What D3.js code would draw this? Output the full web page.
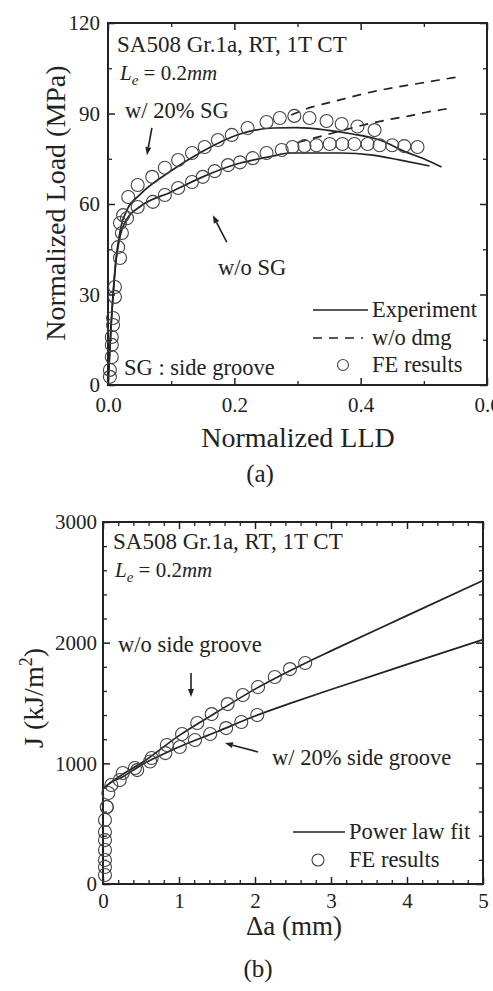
<!DOCTYPE html>
<html>
<head>
<meta charset="utf-8">
<script src="https://cdn.jsdelivr.net/npm/d3@7"></script>
<style>
  body { margin: 0; background: #fff; }
  svg text { font-family: "Liberation Serif", "Times New Roman", serif; fill: #222; }
</style>
</head>
<body>
<svg id="chart" width="493" height="991"></svg>
<script>
// ---------- (a) normalized load vs normalized LLD ----------
// FE results, w/ 20% side groove
const feSgX = [0.003, 0.006, 0.006, 0.008, 0.011, 0.019, 0.022, 0.024, 0.032, 0.047, 0.070, 0.090, 0.111, 0.133, 0.153, 0.174, 0.196, 0.221, 0.251, 0.272, 0.295, 0.319, 0.346, 0.370, 0.395, 0.422];
const feSgY = [2.7, 9.3, 15.9, 22.2, 32.5, 42.1, 50.4, 56.3, 62.3, 66.3, 69.0, 72.0, 74.6, 76.9, 78.9, 81.2, 82.9, 85.2, 87.2, 88.5, 89.2, 88.5, 87.5, 86.5, 85.7, 84.5];
// FE results, w/o side groove
const feNoX = [0.003, 0.006, 0.008, 0.011, 0.016, 0.019, 0.030, 0.047, 0.071, 0.090, 0.111, 0.133, 0.150, 0.169, 0.190, 0.209, 0.229, 0.251, 0.275, 0.292, 0.311, 0.330, 0.351, 0.371, 0.390, 0.411, 0.430, 0.450, 0.469, 0.490];
const feNoY = [5.0, 13.3, 19.9, 29.2, 45.7, 53.7, 55.3, 59.0, 60.7, 63.0, 65.3, 67.3, 69.0, 70.9, 72.9, 73.8, 75.2, 76.9, 77.9, 78.9, 79.2, 79.5, 79.9, 79.9, 79.9, 79.9, 79.5, 79.5, 79.2, 78.9];
// experiment curves
const expSgX = [0, 0.005, 0.012, 0.020, 0.030, 0.050, 0.100, 0.150, 0.209, 0.261, 0.298, 0.346, 0.387, 0.430, 0.472, 0.504, 0.528];
const expSgY = [0, 20, 40, 52, 58, 63, 71, 77.5, 83.2, 85.2, 85.3, 84.5, 83.2, 81.2, 77.2, 74.6, 72.3];
const expNoX = [0, 0.005, 0.012, 0.020, 0.030, 0.050, 0.100, 0.150, 0.200, 0.261, 0.288, 0.367, 0.419, 0.461, 0.509];
const expNoY = [0, 20, 40, 50, 55, 59, 64, 69, 73, 75.9, 76.9, 76.9, 76.2, 74.6, 72.6];
// w/o damage curves
const dmgSgX = [0.290, 0.322, 0.354, 0.410, 0.466, 0.496, 0.524, 0.553];
const dmgSgY = [89.5, 92.1, 93.8, 96.8, 99.1, 100.1, 101.1, 102.1];
const dmgNoX = [0.300, 0.338, 0.417, 0.450, 0.477, 0.506, 0.535, 0.545];
const dmgNoY = [80.4, 82.5, 86.8, 88.2, 89.2, 90.5, 91.5, 91.9];

const aXTicks = [0, 0.2, 0.4, 0.6];
const aXMinor = [0.1, 0.3, 0.5];
const aYTicks = [0, 30, 60, 90, 120];
const aYMinor = [15, 45, 75, 105];

// ---------- (b) J vs crack extension ----------
const jNoX = [0.026, 0.026, 0.026, 0.026, 0.026, 0.026, 0.026, 0.05, 0.11, 0.26, 0.42, 0.64, 0.84, 1.04, 1.24, 1.43, 1.64, 1.84, 2.04, 2.26, 2.46, 2.66];
const jNoY = [75, 141, 199, 282, 364, 431, 530, 638, 820, 920, 961, 1044, 1152, 1243, 1334, 1408, 1491, 1566, 1632, 1715, 1781, 1831];
const jSgX = [0.05, 0.07, 0.22, 0.45, 0.62, 0.82, 1.01, 1.21, 1.41, 1.62, 1.82, 2.03];
const jSgY = [638, 754, 862, 944, 1015, 1085, 1135, 1193, 1243, 1292, 1342, 1400];
// power law fits
const fitNoX = [0, 0.1, 0.25, 0.5, 1, 1.5, 2, 2.66, 3, 4, 5];
const fitNoY = [790, 840, 905, 1000, 1230, 1425, 1615, 1830, 1932, 2224, 2515];
const fitSgX = [0, 0.1, 0.25, 0.5, 1, 1.5, 2, 2.5, 3, 4, 5];
const fitSgY = [790, 840, 885, 985, 1135, 1262, 1392, 1505, 1612, 1820, 2025];

const bXTicks = [0, 1, 2, 3, 4, 5];
const bXMinor = d3.range(0.2, 5, 0.2).filter(v => Math.abs(v - Math.round(v)) > 0.01);
const bYTicks = [0, 1000, 2000, 3000];
const bYMinor = d3.range(200, 3000, 200).filter(v => v % 1000 !== 0);

const svg = d3.select('#chart');
const ink = '#222';
const zip = (xs, ys) => xs.map((v, i) => [v, ys[i]]);

function frame(cfg) {
  const x = d3.scaleLinear().domain(cfg.xDomain).range([cfg.left, cfg.right]);
  const y = d3.scaleLinear().domain(cfg.yDomain).range([cfg.bottom, cfg.top]);
  const g = svg.append('g');

  const sides = [
    [d3.axisBottom(x), cfg.xTicks, cfg.xMinor, `translate(0,${cfg.bottom})`, cfg.xFmt, cfg.xPad],
    [d3.axisTop(x), cfg.xTicks, cfg.xMinor, `translate(0,${cfg.top})`, null, 0],
    [d3.axisLeft(y), cfg.yTicks, cfg.yMinor, `translate(${cfg.left},0)`, cfg.yFmt, cfg.yPad],
    [d3.axisRight(y), cfg.yTicks, cfg.yMinor, `translate(${cfg.right},0)`, null, 0],
  ];
  sides.forEach(([ax, major, minor, tr, fmt, pad]) => {
    const gm = g.append('g').attr('transform', tr)
      .call(ax.tickValues(major).tickSize(-7).tickPadding(pad).tickFormat(fmt ? fmt : () => ''));
    gm.select('.domain').remove();
    gm.selectAll('line').attr('stroke', ink).attr('stroke-width', 1.5);
    gm.selectAll('text').attr('font-size', 21).attr('fill', ink)
      .style('font-family', '"Liberation Serif", "Times New Roman", serif');
    const gn = g.append('g').attr('transform', tr)
      .call(ax.tickValues(minor).tickSize(-4).tickFormat(() => ''));
    gn.select('.domain').remove();
    gn.selectAll('line').attr('stroke', ink).attr('stroke-width', 1.3);
  });

  g.append('rect')
    .attr('x', cfg.left).attr('y', cfg.top)
    .attr('width', cfg.right - cfg.left).attr('height', cfg.bottom - cfg.top)
    .attr('fill', 'none').attr('stroke', ink).attr('stroke-width', 2);
  return { g, x, y };
}

function curve(p, xs, ys, dash) {
  const line = d3.line().x(d => p.x(d[0])).y(d => p.y(d[1])).curve(d3.curveMonotoneX);
  p.g.append('path').datum(zip(xs, ys))
    .attr('fill', 'none').attr('stroke', ink).attr('stroke-width', 1.7)
    .attr('stroke-dasharray', dash || null)
    .attr('d', line);
}

function dots(p, xs, ys) {
  p.g.append('g').selectAll('circle').data(zip(xs, ys)).join('circle')
    .attr('cx', d => p.x(d[0])).attr('cy', d => p.y(d[1])).attr('r', 6.5)
    .attr('fill', 'none').attr('stroke', '#444').attr('stroke-width', 1.1);
}

function arrow(p, from, to) {
  const x1 = p.x(from[0]), y1 = p.y(from[1]), x2 = p.x(to[0]), y2 = p.y(to[1]);
  const ang = Math.atan2(y2 - y1, x2 - x1);
  const hl = 8, hw = 3;
  const bx = x2 - hl * Math.cos(ang), by = y2 - hl * Math.sin(ang);
  p.g.append('line').attr('x1', x1).attr('y1', y1).attr('x2', bx).attr('y2', by)
    .attr('stroke', ink).attr('stroke-width', 1.6);
  p.g.append('path')
    .attr('d', `M${x2},${y2}L${bx - hw * Math.sin(ang)},${by + hw * Math.cos(ang)}L${bx + hw * Math.sin(ang)},${by - hw * Math.cos(ang)}Z`)
    .attr('fill', ink);
}

function label(txt, x, y, size, anchor) {
  return svg.append('text').attr('x', x).attr('y', y).attr('font-size', size)
    .attr('text-anchor', anchor || 'start').text(txt);
}

function leLabel(x, y) {
  const t = svg.append('text').attr('x', x).attr('y', y).attr('font-size', 21);
  t.append('tspan').attr('font-style', 'italic').text('L');
  t.append('tspan').attr('font-style', 'italic').attr('font-size', 15).attr('dy', 5).text('e');
  t.append('tspan').attr('dy', -5).text(' = 0.2');
  t.append('tspan').attr('font-style', 'italic').text('mm');
}

// ----- panel (a) -----
const pa = frame({
  left: 108, right: 487, top: 23, bottom: 385,
  xDomain: [0, 0.6], yDomain: [0, 120],
  xTicks: aXTicks, xMinor: aXMinor, yTicks: aYTicks, yMinor: aYMinor,
  xFmt: d3.format('.1f'), yFmt: d3.format('d'), xPad: 12, yPad: 8,
});
curve(pa, expSgX, expSgY);
curve(pa, expNoX, expNoY);
curve(pa, dmgSgX, dmgSgY, '9,7');
curve(pa, dmgNoX, dmgNoY, '9,7');
dots(pa, feSgX, feSgY);
dots(pa, feNoX, feNoY);
arrow(pa, [0.0695, 85.2], [0.0616, 76.2]);
arrow(pa, [0.188, 47.4], [0.166, 56.3]);

label('SA508 Gr.1a, RT, 1T CT', 117, 52, 23);
leLabel(120, 80);
label('w/ 20% SG', 125, 118, 22.5);
label('w/o SG', 218, 275, 22.5);
label('SG : side groove', 124, 375, 22.5);
svg.append('line').attr('x1', 313).attr('x2', 368).attr('y1', 310).attr('y2', 310)
  .attr('stroke', ink).attr('stroke-width', 1.7);
label('Experiment', 372, 317, 22.5);
svg.append('line').attr('x1', 313).attr('x2', 363).attr('y1', 338).attr('y2', 338)
  .attr('stroke', ink).attr('stroke-width', 1.7).attr('stroke-dasharray', '9,7');
label('w/o dmg', 372, 345, 22.5);
svg.append('circle').attr('cx', 343).attr('cy', 365).attr('r', 5.5)
  .attr('fill', 'none').attr('stroke', '#444').attr('stroke-width', 1.1);
label('FE results', 372, 372, 22.5);

label('Normalized LLD', 298, 447, 28, 'middle');
svg.append('text').attr('transform', 'translate(55,203) rotate(-90)')
  .attr('text-anchor', 'middle').attr('dy', '0.35em').attr('font-size', 28)
  .text('Normalized Load (MPa)');
label('(a)', 260, 482, 25, 'middle');

// ----- panel (b) -----
const pb = frame({
  left: 103, right: 483, top: 522, bottom: 884,
  xDomain: [0, 5], yDomain: [0, 3000],
  xTicks: bXTicks, xMinor: bXMinor, yTicks: bYTicks, yMinor: bYMinor,
  xFmt: d3.format('d'), yFmt: d3.format('d'), xPad: 9, yPad: 6,
});
curve(pb, fitNoX, fitNoY);
curve(pb, fitSgX, fitSgY);
dots(pb, jNoX, jNoY);
dots(pb, jSgX, jSgY);
arrow(pb, [1.158, 1748], [1.158, 1549]);
arrow(pb, [2.04, 1094], [1.605, 1168]);

label('SA508 Gr.1a, RT, 1T CT', 113, 549, 23);
leLabel(115, 577);
label('w/o side groove', 118, 652, 22.5);
label('w/ 20% side groove', 272, 765, 22.5);
svg.append('line').attr('x1', 293).attr('x2', 345).attr('y1', 832).attr('y2', 832)
  .attr('stroke', ink).attr('stroke-width', 1.7);
label('Power law fit', 349, 839, 22.5);
svg.append('circle').attr('cx', 318).attr('cy', 860).attr('r', 6)
  .attr('fill', 'none').attr('stroke', '#444').attr('stroke-width', 1.1);
label('FE results', 349, 867, 22.5);

label('\u0394a (mm)', 294, 935, 27, 'middle');
const jl = svg.append('text').attr('transform', 'translate(33,698) rotate(-90)')
  .attr('text-anchor', 'middle').attr('dy', '0.35em').attr('font-size', 28);
jl.append('tspan').text('J (kJ/m');
jl.append('tspan').attr('font-size', 18).attr('dy', -11).text('2');
jl.append('tspan').attr('dy', 11).text(')');
label('(b)', 258, 977, 25, 'middle');
</script>
</body>
</html>
